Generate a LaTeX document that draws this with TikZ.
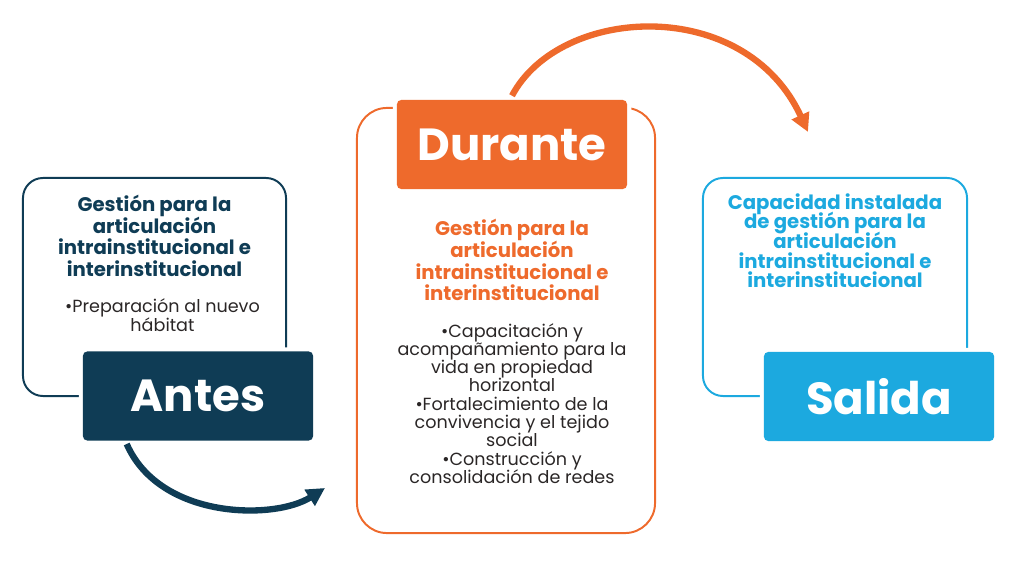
\documentclass[tikz,border=0pt]{standalone}
\usepackage{fontspec}
\setmainfont{Poppins}
\usepackage{tikz}
\usetikzlibrary{positioning,arrows.meta}
\definecolor{navy}{HTML}{0F3C55}
\definecolor{naranja}{HTML}{EE6A2C}
\definecolor{celeste}{HTML}{1CA9DF}
\definecolor{texto}{HTML}{2A2626}
\newcommand\apretado{\lineskiplimit-20pt\relax}
\tikzset{
  every node/.style={
    font=\fontsize{12.5}{13}\selectfont,
    text=texto
  },
  marco/.style={
    draw=#1,
    line width=1.4pt,
    rounded corners=0.5cm,
    minimum width=6.575cm,
    minimum height=5.45cm
  },
  etapa/.style={
    fill=#1,
    rounded corners=3pt,
    preaction={draw=white,line width=6pt},
    text=white,
    font=\bfseries\fontsize{32}{36}\selectfont,
    minimum width=5.75cm,
    minimum height=2.225cm
  },
  titulo/.style={
    text=#1,
    align=center,
    inner sep=0pt,
    font=\bfseries\fontsize{14}{15.3}\selectfont\apretado
  },
  lista/.style={
    align=center,
    inner sep=0pt,
    font=\fontsize{12.5}{13}\selectfont\apretado
  },
  flecha/.style={
    draw=#1,
    line width=4.5pt,
    -{Triangle[length=13pt,width=13pt]}
  }
}

\begin{document}
\begin{tikzpicture}[x=0.025cm,y=-0.025cm]
  \useasboundingbox (0,0) rectangle (1024,576);
  \node [marco=navy] (marco antes) at (154.5,287) {};
  \node [marco=naranja, rounded corners=0.75cm, minimum width=7.45cm, minimum height=10.625cm] (marco durante) at (506,320.5) {};
  \node [marco=celeste, minimum width=6.6cm] (marco salida) at (835,287) {};

  \node [titulo=navy, below=0.45cm of marco antes.north] (titulo antes) {
    Gestión para la\\articulación\\intrainstitucional e\\interinstitucional
  };
  \node [lista, below=0.55cm of titulo antes, xshift=0.2cm] (lista antes) {
    •Preparación al nuevo\\hábitat
  };

  \node [etapa=naranja] (etapa durante) at (512,144.5) {Durante};
  \node [titulo=naranja, below=0.75cm of etapa durante] (titulo durante) {
    Gestión para la\\articulación\\intrainstitucional e\\interinstitucional
  };
  \node [lista, below=0.55cm of titulo durante] (lista durante) {
    •Capacitación y\\acompañamiento para la\\vida en propiedad\\horizontal\\
    •Fortalecimiento de la\\convivencia y el tejido\\social\\
    •Construcción y\\consolidación de redes
  };

  \node [titulo=celeste, font=\bfseries\fontsize{14}{14}\selectfont\apretado, below=0.4cm of marco salida.north] (titulo salida) {
    Capacidad instalada\\de gestión para la\\articulación\\intrainstitucional e\\interinstitucional
  };

  \node [etapa=navy] (etapa antes) at (198,396) {Antes};
  \node [etapa=celeste] (etapa salida) at (879,396.5) {Salida};

  \coordinate (fin antes) at (325,488);
  \coordinate (fin durante) at (808,132);
  \draw [flecha=navy] ([xshift=1.1cm,yshift=-0.08cm]etapa antes.south west)
    .. controls (160,520) and (275,520) .. (fin antes);
  \draw [flecha=naranja] ([yshift=0.1cm]etapa durante.north)
    .. controls (560,5) and (745,-5) .. (fin durante);
\end{tikzpicture}
\end{document}
